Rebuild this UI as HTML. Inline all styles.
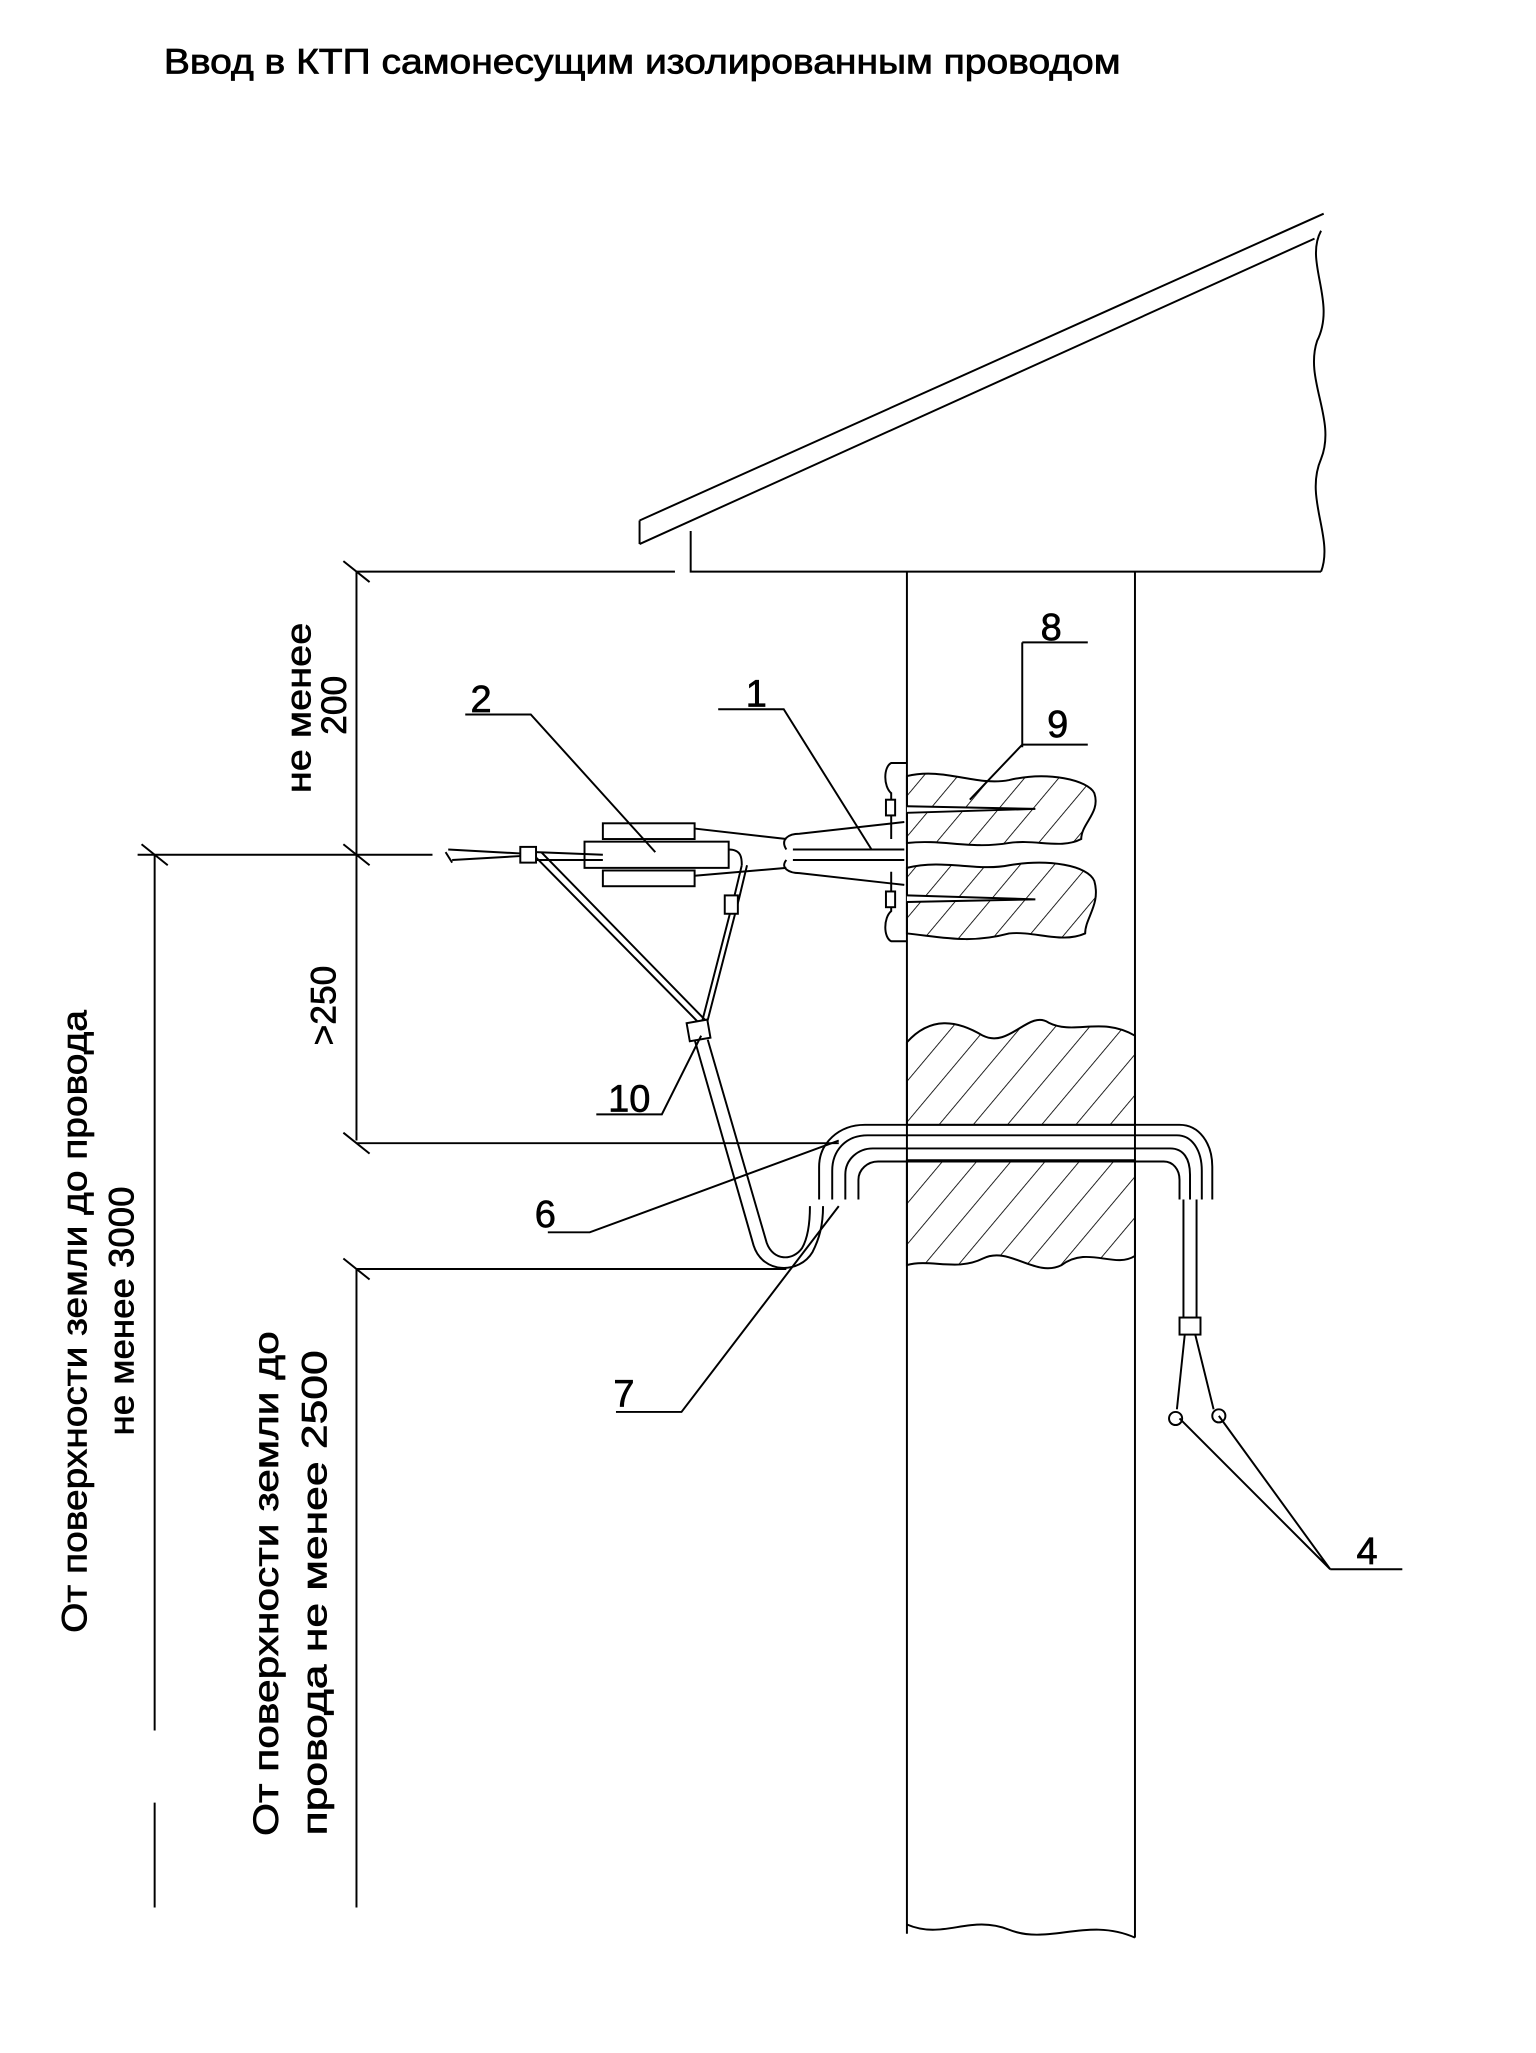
<!DOCTYPE html>
<html><head><meta charset="utf-8"><style>
html,body{margin:0;padding:0;background:#fff;}
svg{display:block;}
text{font-family:"Liberation Sans",sans-serif;fill:#000;}
</style></head><body>
<svg width="1536" height="2053" viewBox="0 0 1172 1566" preserveAspectRatio="none" xmlns="http://www.w3.org/2000/svg">
<defs>
<pattern id="h" width="20" height="20" patternUnits="userSpaceOnUse" patternTransform="rotate(40)">
<line x1="0" y1="0" x2="0" y2="20" stroke="#000" stroke-width="1.3"/>
</pattern>
</defs>
<text x="125" y="56" font-size="27" textLength="730" lengthAdjust="spacingAndGlyphs" stroke="#000" stroke-width="0.6">Ввод в КТП самонесущим изолированным проводом</text>
<g fill="none" stroke="#000" stroke-width="1.5">
<path d="M488,397 L1010,163 M488,415 L1003,182 M488,397 L488,415"/>
<path d="M527,405 L527,436 L1008,436"/>
<path d="M1008,176 C995,200 1020,230 1005,260 C995,290 1020,320 1008,350 C995,380 1018,410 1008,436"/>
<path d="M692,436 L692,1475 M866,436 L866,1478"/>
<path d="M692,1468 C720,1480 740,1460 770,1472 C800,1484 830,1462 866,1478"/>
<path d="M272,436 L515,436 M272,436 L272,870 M272,968 L272,1455"/>
<path d="M118,652 L118,1320 M118,1375 L118,1455"/>
<path d="M105,652 L330,652 M272,872 L640,872 M272,968 L600,968"/>
<path d="M262,428 L282,444 M262,644 L282,660 M108,644 L128,660 M262,864 L282,880 M262,960 L282,976"/>
<path d="M692,592 C720,585 745,600 770,595 C800,588 830,595 835,605 C840,620 825,628 825,640 C810,648 790,640 770,643 C740,648 720,640 692,643 Z" fill="url(#h)"/>
<path d="M692,662 C720,655 745,665 770,660 C800,655 830,660 835,672 C840,690 828,700 828,712 C810,720 790,710 770,712 C740,720 720,715 692,712 Z" fill="url(#h)"/>
<path d="M692,620 L790,617 L692,615 M692,688 L790,686 L692,683" fill="#fff"/>
<path d="M692,795 C710,775 730,778 750,790 C770,800 785,770 800,780 C820,790 840,775 866,790 L866,858 L692,858 Z" fill="url(#h)"/>
<path d="M692,885 L866,885 L866,958 C850,968 830,950 810,965 C790,975 770,950 750,960 C730,970 710,960 692,965 Z" fill="url(#h)"/>
<path d="M692,582 L680,582 C674,585 674,600 680,605 L680,640 M692,718 L680,718 C674,715 674,700 680,695 L680,665"/>
<rect x="676" y="610" width="7" height="12" fill="#fff"/><rect x="676" y="680" width="7" height="12" fill="#fff"/>
<path d="M600,648 C595,640 602,636 610,636 L690,627 M600,656 C595,662 602,666 610,666 L690,675 M605,648 L690,648 M605,656 L690,656"/>
<rect x="460" y="628" width="70" height="12"/><rect x="460" y="664" width="70" height="12"/>
<rect x="446" y="642" width="110" height="20" fill="#fff"/>
<path d="M530,632 L600,640 M530,668 L600,662 M556,648 C566,648 566,655 566,660"/>
<path d="M342,648 L397,651 M345,656 L397,653 M340,650 L345,658"/>
<rect x="397" y="646" width="12" height="12" fill="#fff"/>
<path d="M409,650 L460,652 M409,656 L460,656"/>
<path d="M409,654 L535,782 M413,650 L539,779"/>
<path d="M566,660 L560,685 L535,782 M570,660 L564,685 L539,782"/>
<rect x="553" y="683" width="10" height="14" fill="#fff"/>
<rect x="525" y="779" width="16" height="14" transform="rotate(-10 533 786)" fill="#fff"/>
<path d="M530,793 L575,950 C582,972 610,972 620,955 C625,945 628,935 628,920 M540,793 L585,948 C590,962 605,962 612,952 C616,945 618,935 618,920"/>
<path d="M625,915 L625,890 C625,872 640,858 660,858 L900,858 C915,858 925,872 925,890 L925,915 M635,915 L635,893 C635,878 645,866 662,866 L898,866 C910,866 917,878 917,893 L917,915 M645,915 L645,896 C645,884 655,876 666,876 L893,876 C903,876 908,884 908,896 L908,915 M655,915 L655,900 C655,892 662,886 670,886 L888,886 C895,886 900,892 900,900 L900,915"/>
<path d="M903,915 L903,1005 M913,915 L913,1005"/>
<rect x="900" y="1005" width="16" height="13" fill="#fff"/>
<path d="M904,1018 L898,1075 M912,1018 L926,1075"/>
<circle cx="897" cy="1082" r="5"/><circle cx="930" cy="1080" r="5"/>
<path d="M780,490 L830,490 M780,490 L780,570 M780,568 L830,568 M780,568 L740,610"/>
<path d="M548,541 L598,541 L665,648"/>
<path d="M355,545 L405,545 L500,650"/>
<path d="M455,850 L505,850 L535,790"/>
<path d="M418,940 L450,940 L640,870"/>
<path d="M470,1077 L520,1077 L640,920"/>
<path d="M1015,1197 L1070,1197 M1015,1197 L900,1082 M1015,1197 L930,1080"/>
</g>
<g font-size="29" stroke="#000" stroke-width="0.5">
<text x="794" y="488">8</text>
<text x="799" y="562">9</text>
<text x="569" y="539">1</text>
<text x="359" y="543">2</text>
<text x="464" y="848">10</text>
<text x="408" y="936">6</text>
<text x="468" y="1073">7</text>
<text x="1035" y="1193">4</text>
</g>
<g font-size="27" text-anchor="middle" stroke="#000" stroke-width="0.5">
<text transform="translate(237,540) rotate(-90)" textLength="130" lengthAdjust="spacingAndGlyphs">не менее</text>
<text transform="translate(264,538) rotate(-90)">200</text>
<text transform="translate(256,767) rotate(-90)">&gt;250</text>
<text transform="translate(66,1008) rotate(-90)" textLength="475" lengthAdjust="spacingAndGlyphs">От поверхности земли до провода</text>
<text transform="translate(102,1000) rotate(-90)" textLength="190" lengthAdjust="spacingAndGlyphs">не менее 3000</text>
<text transform="translate(212,1208) rotate(-90)" textLength="385" lengthAdjust="spacingAndGlyphs">От поверхности земли до</text>
<text transform="translate(249,1215) rotate(-90)" textLength="370" lengthAdjust="spacingAndGlyphs">провода не менее 2500</text>
</g>
</svg>
</body></html>
